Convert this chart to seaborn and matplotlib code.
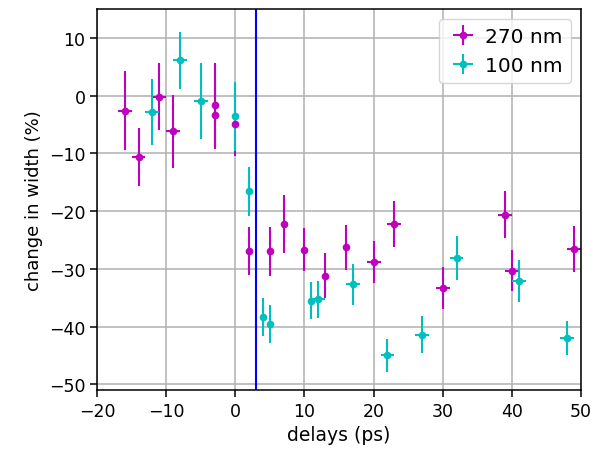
import matplotlib
matplotlib.use('Agg')
import matplotlib.pyplot as plt
import seaborn as sb

# 270 nm series
delay_270 = [-16, -14, -11, -9, -3, -3, 0, 2, 5, 7, 10, 13, 16, 20, 23, 30, 39, 40, 49]
width_270 = [-2.6, -10.6, -0.2, -6.2, -1.6, -3.4, -5.0, -26.9, -27.0, -22.3, -26.7, -31.2, -26.3,
             -28.8, -22.3, -33.3, -20.6, -30.3, -26.5]
yerr_270 = [6.8, 5.0, 5.8, 6.3, 7.3, 5.8, 5.5, 4.2, 4.2, 5.0, 3.7, 3.9, 3.9, 3.6, 4.0, 3.6, 4.0, 3.5, 4.0]
xerr_270 = [1, 1, 1, 1, 0, 0, 0, 0, 0, 0, 0, 0, 0, 1, 1, 1, 1, 1, 1]

# 100 nm series
delay_100 = [-12, -8, -5, 0, 2, 4, 5, 11, 12, 17, 22, 27, 32, 41, 48]
width_100 = [-2.8, 6.1, -0.9, -3.6, -16.6, -38.3, -39.5, -35.5, -35.3, -32.7, -45.0, -41.4, -28.2,
             -32.1, -42.0]
yerr_100 = [5.7, 4.9, 6.6, 6.0, 4.3, 3.3, 3.3, 3.2, 3.2, 3.5, 2.9, 3.2, 3.8, 3.6, 3.0]
xerr_100 = [1, 1, 1, 0, 0, 0, 0, 0, 1, 1, 1, 1, 1, 1, 1]

t_zero = 3

sb.set_style('ticks', {'axes.grid': True, 'grid.color': '#b0b0b0', 'axes.edgecolor': 'black',
                       'text.color': 'black', 'xtick.color': 'black', 'ytick.color': 'black',
                       'axes.labelcolor': 'black'})
plt.rcParams['font.size'] = 13
plt.rcParams['axes.linewidth'] = 1.1
plt.rcParams['xtick.major.size'] = 4.8
plt.rcParams['ytick.major.size'] = 4.8
plt.rcParams['xtick.major.width'] = 1.1
plt.rcParams['ytick.major.width'] = 1.1

fig = plt.figure(figsize=(5.93, 4.56), dpi=100)
ax = fig.add_axes([0.1636, 0.1425, 0.8162, 0.8355])

ax.errorbar(delay_270, width_270, yerr=yerr_270, xerr=xerr_270, fmt='o', ms=4.5, color='m',
            elinewidth=1.5, label='270 nm')
ax.errorbar(delay_100, width_100, yerr=yerr_100, xerr=xerr_100, fmt='o', ms=4.5, color='c',
            elinewidth=1.5, label='100 nm')
ax.axvline(t_zero, color='b', lw=1.5)

ax.set_xlim(-20, 50)
ax.set_ylim(-51, 15)
ax.grid(True, color='#b0b0b0', lw=1.1)
ax.tick_params(labelsize=12.5)
ax.set_xlabel('delays (ps)', fontsize=13.5)
ax.set_ylabel('change in width (%)', fontsize=13)
ax.legend(loc='upper right', fontsize=14.5, handletextpad=0.3, handlelength=1.6)

fig.savefig('out.png', dpi=100)
